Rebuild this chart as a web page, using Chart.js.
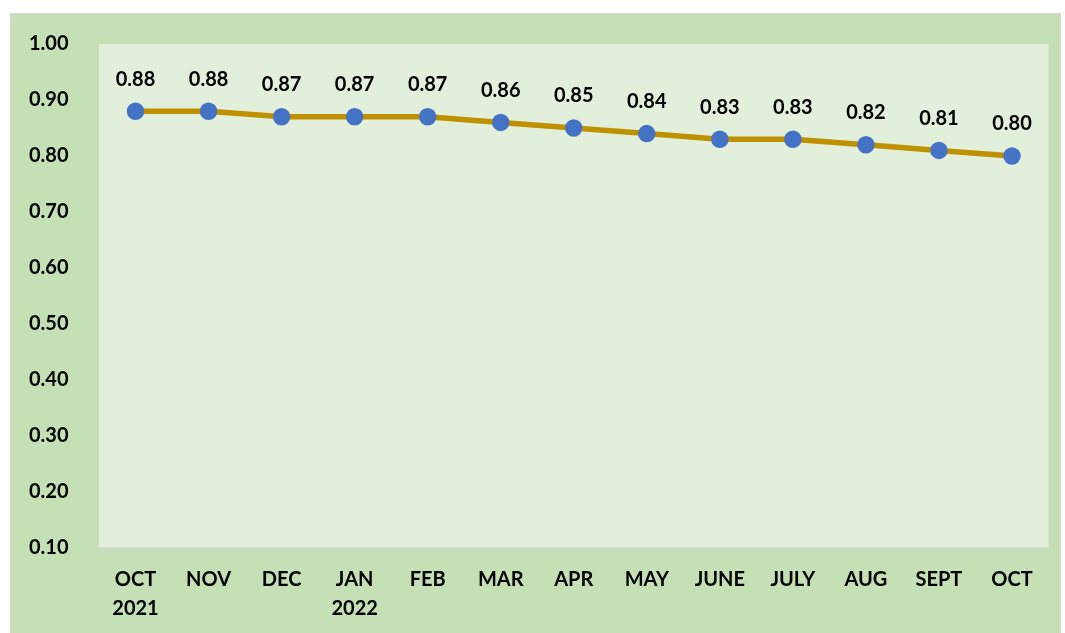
<!DOCTYPE html>
<html>
<head>
<meta charset="utf-8">
<script src="https://cdn.jsdelivr.net/npm/chart.js"></script>
<style>
  body { margin: 0; background: #fff; }
  #box {
    position: absolute; left: 10px; top: 13px;
    width: 1049px; height: 619px;
    background: #c5e0b4; border: 1px solid #d9d9d9; border-bottom: none;
  }
  canvas { display: block; }
</style>
</head>
<body>
<div id="box"><canvas id="chartCanvas" width="1049" height="619"></canvas></div>
<script>
// month labels (two lines where the year starts)
const months = [['OCT', '2021'], 'NOV', 'DEC', ['JAN', '2022'], 'FEB', 'MAR', 'APR', 'MAY', 'JUNE', 'JULY', 'AUG', 'SEPT', 'OCT'];
const values = [0.88, 0.88, 0.87, 0.87, 0.87, 0.86, 0.85, 0.84, 0.83, 0.83, 0.82, 0.81, 0.80];
const yTicks = [0.10, 0.20, 0.30, 0.40, 0.50, 0.60, 0.70, 0.80, 0.90, 1.00];

const fontFamily = 'Lato, "Open Sans", sans-serif';

// plot area fill
const plotBg = {
  id: 'plotBg',
  beforeDraw(chart) {
    const a = chart.chartArea;
    const ctx = chart.ctx;
    ctx.save();
    ctx.fillStyle = '#e2efda';
    ctx.fillRect(a.left, a.top, a.right - a.left, a.bottom - a.top);
    ctx.restore();
  }
};

// value labels above the points
const valueLabels = {
  id: 'valueLabels',
  afterDatasetsDraw(chart) {
    const ctx = chart.ctx;
    const meta = chart.getDatasetMeta(0);
    ctx.save();
    ctx.font = 'bold 20px ' + fontFamily;
    ctx.fillStyle = '#000';
    ctx.textAlign = 'center';
    ctx.textBaseline = 'bottom';
    meta.data.forEach((pt, i) => {
      ctx.fillText(values[i].toFixed(2), pt.x, pt.y - 22);
    });
    ctx.restore();
  }
};

const ctx = document.getElementById('chartCanvas').getContext('2d');
new Chart(ctx, {
  type: 'line',
  data: {
    labels: months,
    datasets: [{
      data: values,
      borderColor: '#bf9000',
      borderWidth: 5.5,
      pointBackgroundColor: '#4472c4',
      pointBorderColor: '#4472c4',
      pointRadius: 6,
      tension: 0
    }]
  },
  options: {
    responsive: false,
    animation: false,
    layout: { padding: { top: 30, right: 5, left: 18, bottom: 0 } },
    plugins: {
      legend: { display: false },
      tooltip: { enabled: false }
    },
    scales: {
      x: {
        offset: true,
        grid: { display: false, drawTicks: false },
        border: { display: true, color: '#d9d9d9', width: 2 },
        afterFit(scale) { scale.height = 85; },
        ticks: {
          color: '#000',
          padding: 17,
          maxRotation: 0,
          autoSkip: false,
          font: { family: fontFamily, size: 20, weight: 'bold', lineHeight: 1.45 }
        }
      },
      y: {
        min: 0.1,
        max: 1.0,
        afterFit(scale) { scale.width = 70; },
        afterBuildTicks(scale) { scale.ticks = yTicks.map(v => ({ value: v })); },
        grid: { display: false, drawTicks: false },
        border: { display: false },
        ticks: {
          color: '#000',
          padding: 0,
          crossAlign: 'far',
          font: { family: fontFamily, size: 20, weight: 'bold' },
          callback: v => v.toFixed(2)
        }
      }
    }
  },
  plugins: [plotBg, valueLabels]
});
</script>
</body>
</html>
